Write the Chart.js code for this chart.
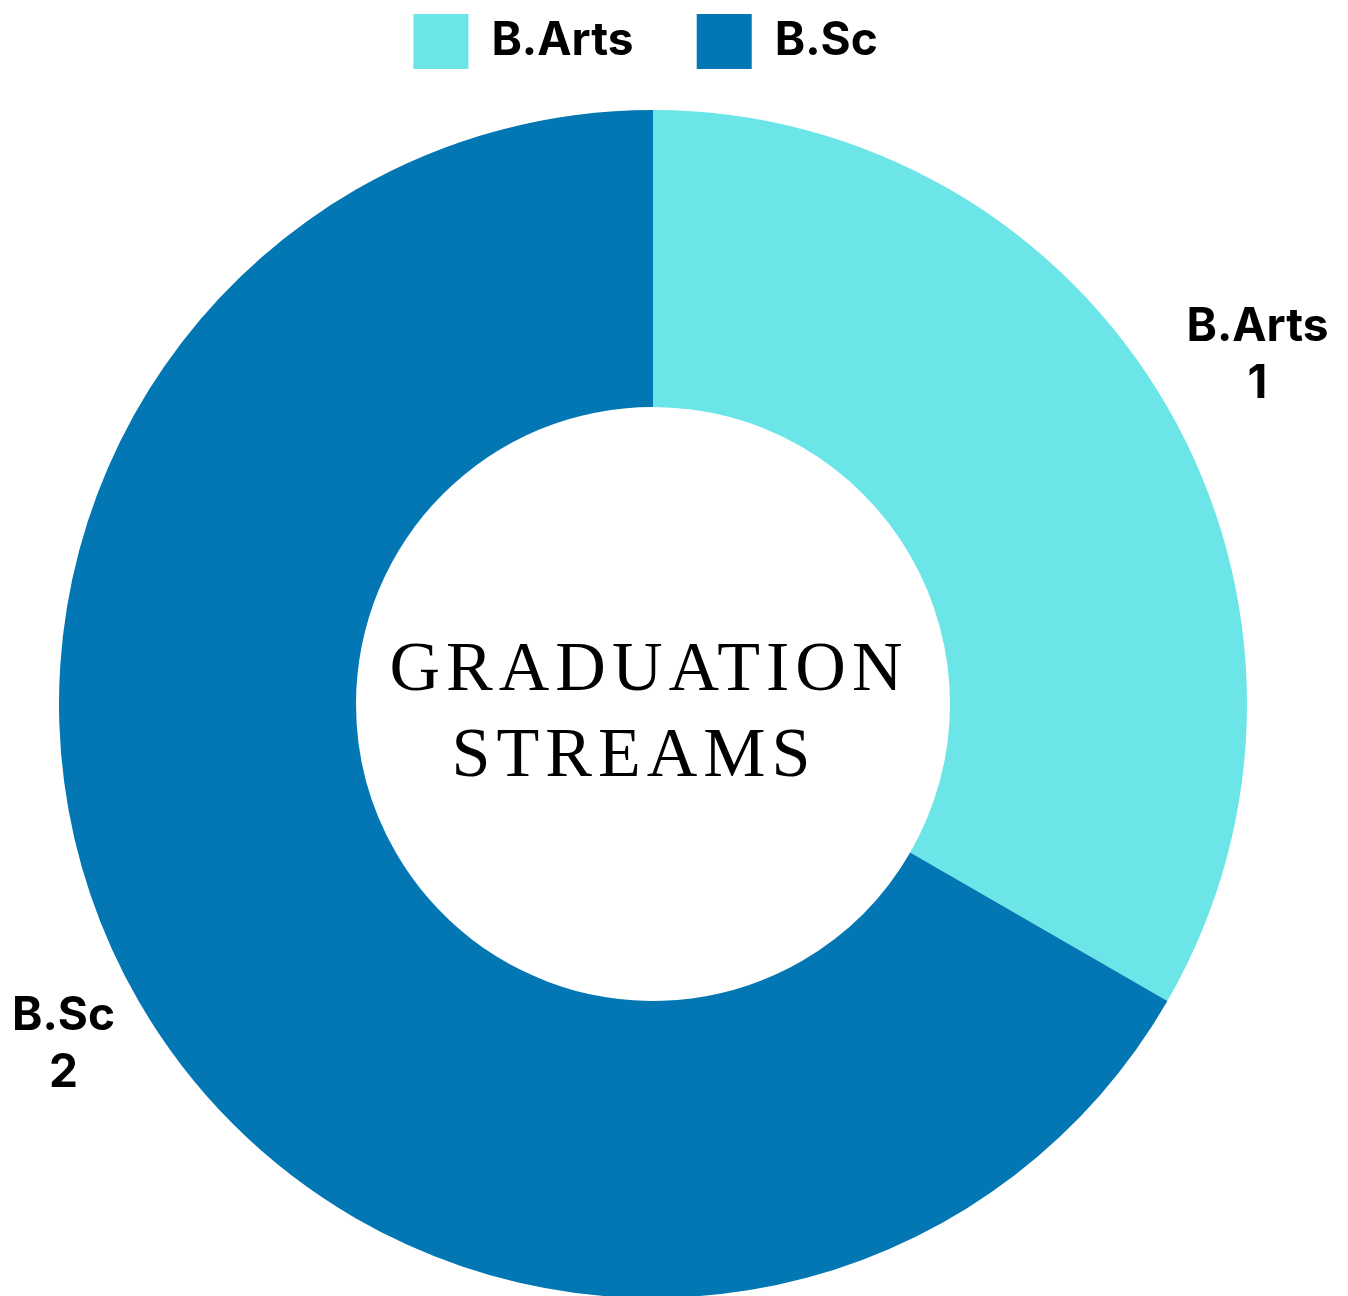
<!DOCTYPE html>
<html>
<head>
<meta charset="utf-8">
<script src="https://cdn.jsdelivr.net/npm/chart.js@4"></script>
<style>
  html, body { margin: 0; padding: 0; background: #fff; overflow: hidden; }
  #wrap { width: 1348px; height: 1329px; }
</style>
</head>
<body>
<div id="wrap"><canvas id="myChart"></canvas></div>
<script>
var labels = ['B.Arts', 'B.Sc'];
var values = [1, 2];
var colors = ['#6CE5E8', '#0377B4'];
var centerLines = ['GRADUATION', 'STREAMS'];

// labels outside the ring + text in the hole
var ringText = {
    id: 'ringText',
    afterDraw: function(chart) {
        var ctx = chart.ctx;
        var meta = chart.getDatasetMeta(0);
        ctx.save();
        ctx.fillStyle = '#000';
        ctx.textAlign = 'center';
        ctx.textBaseline = 'middle';
        ctx.font = 'bold 46px Inter, "Noto Sans", sans-serif';
        meta.data.forEach(function(arc, i) {
            var p = arc.getProps(['x', 'y', 'startAngle', 'endAngle', 'outerRadius'], true);
            var mid = (p.startAngle + p.endAngle) / 2;
            var cos = Math.cos(mid), sin = Math.sin(mid);
            var d = p.outerRadius + 104;
            // pull the label in along the ray if it would leave the canvas
            var half = ctx.measureText(labels[i]).width / 2;
            if (cos < 0) d = Math.min(d, (p.x - 12 - half) / -cos);
            if (cos > 0) d = Math.min(d, (chart.width - 12 - half - p.x) / cos);
            var x = p.x + cos * d;
            var y = p.y + sin * d;
            ctx.fillText(labels[i], x, y - 28);
            ctx.fillText(String(values[i]), x, y + 29);
        });
        var c = meta.data[0];
        ctx.textBaseline = 'alphabetic';
        ctx.font = '70px "Liberation Serif", "DejaVu Serif", serif';
        ctx.letterSpacing = '6px';
        ctx.fillText(centerLines[0], c.x - 4, c.y - 14);
        ctx.fillText(centerLines[1], c.x - 19, c.y + 72);
        ctx.restore();
    }
};

var ctx = document.getElementById('myChart').getContext('2d');
var chart = new Chart(ctx, {
    type: 'doughnut',
    data: {
        labels: labels,
        datasets: [{
            data: values,
            backgroundColor: colors,
            borderWidth: 0,
        }]
    },
    options: {
        responsive: true,
        maintainAspectRatio: false,
        animation: false,
        cutout: '50%',
        layout: { padding: { left: 59, right: 101, top: -19, bottom: 0 } },
        plugins: {
            tooltip: { enabled: false },
            legend: {
                position: 'top',
                labels: {
                    boxWidth: 55,
                    boxHeight: 55,
                    padding: 33,
                    color: '#000',
                    font: { family: 'Inter, "Noto Sans", sans-serif', size: 46, weight: 'bold' },
                    generateLabels: function(chart) {
                        // extra gap between the items
                        var items = Chart.overrides.doughnut.plugins.legend.labels.generateLabels(chart);
                        return items.map(function(it, i) {
                            it.text = it.text + (i < items.length - 1 ? '\u2002\u2009' : '\u2009\u2006');
                            return it;
                        });
                    }
                }
            }
        }
    },
    plugins: [ringText]
});
</script>
</body>
</html>
